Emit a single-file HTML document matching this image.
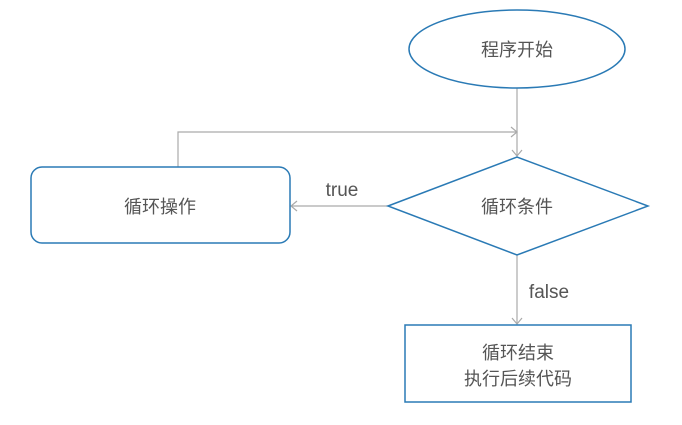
<!DOCTYPE html>
<html><head><meta charset="utf-8"><style>
html,body{margin:0;padding:0;background:#fff;}
svg{display:block;}
text{font-family:"Liberation Sans","Noto Sans CJK SC",sans-serif;fill:#555;}
</style></head><body>
<svg width="682" height="425" viewBox="0 0 682 425">
<g fill="none" stroke="#aaa" stroke-width="1.2">
<path d="M517 88V156"/><path d="M512 150l5 6 5-6"/>
<path d="M178 167V132H517"/><path d="M511 127l6 5-6 5"/>
<path d="M388 206H291"/><path d="M297 201l-6 5 6 5"/>
<path d="M517 255V324"/><path d="M512 318l5 6 5-6"/>
</g>
<g fill="#fff" stroke="#2a7ab5" stroke-width="1.5">
<ellipse cx="517" cy="49" rx="108" ry="39"/>
<path d="M388 206L517 157L648 206L517 255Z"/>
<rect x="31" y="167" width="259" height="76" rx="11"/>
<rect x="405" y="325" width="226" height="77"/>
</g>
<g font-size="18" text-anchor="middle">
<text x="517" y="56">程序开始</text>
<text x="517" y="213">循环条件</text>
<text x="160" y="213">循环操作</text>
<text x="518" y="359">循环结束</text>
<text x="518" y="385">执行后续代码</text>
</g>
<g font-size="19" text-anchor="middle">
<text x="342" y="196">true</text>
<text x="549" y="298">false</text>
</g>
</svg>
</body></html>
